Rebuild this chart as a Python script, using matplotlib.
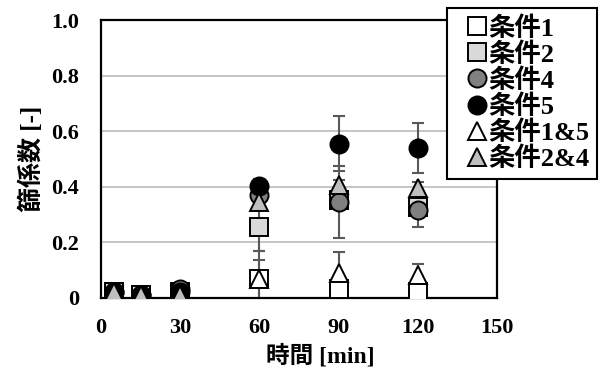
import matplotlib
matplotlib.use('Agg')
import matplotlib.pyplot as plt

plt.rcParams['font.family'] = ['Liberation Serif', 'Noto Sans CJK JP']
plt.rcParams['font.weight'] = 'bold'

# 時間 [min]
jikan = [5, 15, 30, 60, 90, 120]

# 篩係数 (平均値と誤差)
joken1 = [0.02, 0.01, 0.01, 0.065, 0.032, 0.02]
joken1_err = [0.005, 0.005, 0.005, 0.07, 0.02, 0.02]
joken2 = [0.02, 0.01, 0.02, 0.253, 0.35, 0.325]
joken2_err = [0.005, 0.005, 0.005, 0.085, 0.03, 0.03]
joken4 = [0.02, 0.01, 0.03, 0.37, 0.345, 0.315]
joken4_err = [0.005, 0.005, 0.005, 0.04, 0.13, 0.06]
joken5 = [0.02, 0.01, 0.02, 0.403, 0.555, 0.54]
joken5_err = [0.005, 0.005, 0.005, 0.025, 0.1, 0.09]
joken15 = [0.02, 0.01, 0.01, 0.068, 0.09, 0.08]
joken15_err = [0.005, 0.005, 0.005, 0.1, 0.075, 0.04]
joken24 = [0.02, 0.01, 0.01, 0.345, 0.405, 0.395]
joken24_err = [0.005, 0.005, 0.005, 0.02, 0.02, 0.02]

series = [
    ('条件1', joken1, joken1_err, 's', 'white'),
    ('条件2', joken2, joken2_err, 's', '#d9d9d9'),
    ('条件4', joken4, joken4_err, 'o', '#808080'),
    ('条件5', joken5, joken5_err, 'o', 'black'),
    ('条件1&5', joken15, joken15_err, '^', 'white'),
    ('条件2&4', joken24, joken24_err, '^', '#bfbfbf'),
]

fig = plt.figure(figsize=(6.14, 3.74), dpi=100)
ax = fig.add_axes([0.1645, 0.2045, 0.645, 0.742])

for i, (nombre, y, err, m, c) in enumerate(series):
    ax.errorbar(jikan, y, yerr=err, fmt='none', ecolor='#595959',
                elinewidth=1.5, capsize=4.5, capthick=1.5, zorder=2 + i * 0.1)
    ax.plot(jikan, y, linestyle='none', marker=m, markersize=13,
            markerfacecolor=c, markeredgecolor='black', markeredgewidth=1.4,
            label=nombre, zorder=3 + i * 0.1)

ax.set_xlim(0, 150)
ax.set_ylim(0, 1.0)
ax.set_xticks([0, 30, 60, 90, 120, 150])
ax.set_yticks([0, 0.2, 0.4, 0.6, 0.8, 1.0])
ax.set_yticklabels(['0', '0.2', '0.4', '0.6', '0.8', '1.0'])
ax.tick_params(length=0, labelsize=16)
ax.tick_params(axis='x', pad=15)
ax.tick_params(axis='y', pad=16)
for lab in ax.get_xticklabels() + ax.get_yticklabels():
    lab.set_fontweight('bold')
ax.grid(axis='y', color='#c0c0c0', linewidth=1.3)
ax.set_axisbelow(True)
for s in ax.spines.values():
    s.set_color('black')
    s.set_linewidth(1.6)

ax.set_xlabel('時間 [min]', fontsize=17, fontweight='bold')
ax.set_ylabel('篩係数 [-]', fontsize=18, fontweight='bold')
ax.xaxis.set_label_coords(0.553, -0.168)
ax.yaxis.set_label_coords(-0.145, 0.5)

leg = fig.legend(loc='upper left', bbox_to_anchor=(447 / 614, 1 - 8 / 374),
                 borderaxespad=0, fontsize=19, markerscale=1.0,
                 handlelength=1.7, handletextpad=-0.45, labelspacing=0.057,
                 borderpad=0.3, fancybox=False, framealpha=1)
leg.get_frame().set_edgecolor('black')
leg.get_frame().set_linewidth(1.5)
for t in leg.get_texts():
    t.set_fontweight('bold')

plt.savefig('out.png', dpi=100)
